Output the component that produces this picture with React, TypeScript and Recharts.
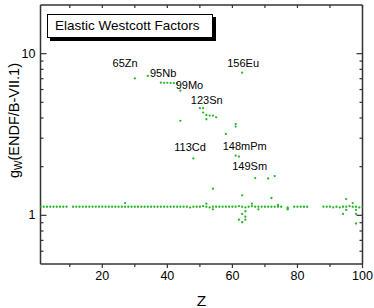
import React from 'react';
import { ScatterChart, Scatter, XAxis, YAxis, Legend, ReferenceDot } from 'recharts';

// elements sitting on the ~1.13 plateau (one entry per Z)
const baselineZ = [
  1, 2, 3, 4, 5, 6, 7, 8, 9,
  11, 12, 13, 14, 15, 16, 17, 18, 19, 20,
  21, 22, 23, 24, 25, 26, 27, 28, 29, 30,
  31, 32, 33, 34, 35, 36, 37, 38, 39, 40,
  41, 42, 43, 44, 45, 46, 47, 48, 49, 50,
  51, 52, 53, 54, 55, 56, 57, 58, 59, 60,
  61, 62, 63, 64, 65, 66, 67, 68, 69, 70,
  71, 72, 73, 74, 75, 77, 79, 80, 81, 82, 83,
  88, 89, 90, 91, 92, 93, 94, 95, 96, 97, 98, 99, 100,
];
const baselineG = [
  1.13, 1.13, 1.13, 1.13, 1.13, 1.13, 1.13, 1.13, 1.13,
  1.13, 1.13, 1.13, 1.13, 1.13, 1.13, 1.13, 1.13, 1.13, 1.13,
  1.13, 1.13, 1.13, 1.13, 1.13, 1.13, 1.13, 1.13, 1.13, 1.13,
  1.13, 1.13, 1.13, 1.13, 1.13, 1.13, 1.13, 1.13, 1.13, 1.13,
  1.13, 1.13, 1.13, 1.13, 1.13, 1.13, 1.12, 1.13, 1.13, 1.13,
  1.14, 1.13, 1.12, 1.13, 1.13, 1.13, 1.13, 1.13, 1.13, 1.13,
  1.13, 1.14, 1.13, 1.12, 1.13, 1.14, 1.13, 1.13, 1.13, 1.13,
  1.13, 1.13, 1.13, 1.13, 1.13, 1.12, 1.13, 1.13, 1.13, 1.13, 1.13,
  1.13, 1.13, 1.13, 1.12, 1.13, 1.12, 1.13, 1.13, 1.14, 1.13, 1.13, 1.12, 1.13,
];

// nuclides off the plateau
const outlierZ = [
  27, 30, 34, 38, 39, 40, 41, 42, 43, 44, 44,
  48, 50, 51, 51, 52, 53, 54, 55, 52,
  58, 61, 61, 61, 62, 63,
  67, 71, 73, 54, 63, 72, 95, 97, 52, 66, 74,
  63, 64, 64, 62, 63, 64,
  94, 95, 98, 98, 98, 54, 68, 77, 77,
];
const outlierG = [
  1.19, 7.04, 7.28, 6.62, 6.6, 6.6, 6.58, 6.58, 6.55, 5.9, 3.84,
  2.25, 4.6, 4.6, 4.32, 4.18, 4.14, 4.14, 4.04, 3.93,
  3.19, 3.67, 3.54, 2.34, 2.31, 7.63,
  1.7, 1.69, 1.75, 1.46, 1.33, 1.28, 1.26, 1.19, 1.18, 1.18, 1.16,
  1.02, 1.06, 0.98, 0.94, 0.906, 0.94,
  1.02, 1.08, 1.02, 0.89, 1.08, 1.09, 1.09, 1.09, 1.1,
];

// annotation text and where its centre sits (Z, g_W)
const noteText = ['65Zn', '95Nb', '99Mo', '156Eu', '123Sn', '113Cd', '148mPm', '149Sm'];
const noteZ = [27.0, 38.7, 46.8, 63.3, 52.1, 47.0, 63.8, 65.3];
const noteG = [8.72, 7.63, 6.4, 8.8, 5.17, 2.63, 2.7, 2.01];

const xTicks = [10, 20, 30, 40, 50, 60, 70, 80, 90, 100];
const yTicks = [0.6, 0.7, 0.8, 0.9, 1, 2, 3, 4, 5, 6, 7, 8, 9, 10];
const xMajor = [20, 40, 60, 80, 100];
const yMajor = [1, 10];

const points = [
  ...baselineZ.map((z, i) => ({ z, g: baselineG[i] })),
  ...outlierZ.map((z, i) => ({ z, g: outlierG[i] })),
];

const FONT = '"Liberation Sans", Arial, sans-serif';
const AXIS = '#333';

const LeftTick = ({ x, y, payload }: any) => {
  const major = yMajor.includes(payload.value);
  return (
    <g>
      <line x1={x} x2={x + (major ? 6 : 3)} y1={y} y2={y} stroke={AXIS} strokeWidth={1.2} />
      {major && (
        <text x={x - 5} y={y} textAnchor="end" dominantBaseline="central" fontSize={12.5} fontFamily={FONT} fill="#000">
          {payload.value}
        </text>
      )}
    </g>
  );
};

const RightTick = ({ x, y, payload }: any) => {
  const major = yMajor.includes(payload.value);
  return <line x1={x} x2={x - (major ? 6 : 3)} y1={y} y2={y} stroke={AXIS} strokeWidth={1.2} />;
};

const BottomTick = ({ x, y, payload }: any) => {
  const major = xMajor.includes(payload.value);
  return (
    <g>
      <line x1={x} x2={x} y1={y} y2={y + (major ? 4 : 3)} stroke={AXIS} strokeWidth={1.2} />
      {major && (
        <text x={x} y={y + 12} textAnchor="middle" dominantBaseline="central" fontSize={12.5} fontFamily={FONT} fill="#000">
          {payload.value}
        </text>
      )}
    </g>
  );
};

const TopTick = ({ x, y }: any) => (
  <line x1={x} x2={x} y1={y} y2={y + 3} stroke={AXIS} strokeWidth={1.2} />
);

const YLabel = ({ viewBox }: any) => {
  const cx = 14;
  const cy = viewBox.y + viewBox.height / 2 - 14;
  return (
    <text
      x={cx}
      y={cy}
      transform={`rotate(-90 ${cx} ${cy})`}
      textAnchor="middle"
      dominantBaseline="central"
      fontSize={14.5}
      fontFamily={FONT}
      fill="#000"
    >
      g<tspan fontSize={10} dy={4}>W</tspan>
      <tspan dy={-4}>(ENDF/B-VII.1)</tspan>
    </text>
  );
};

const LegendBox = () => (
  <div
    style={{
      width: 157,
      height: 22,
      border: '1px solid #000',
      background: '#fff',
      boxShadow: '3px 3px 0 #000',
      fontFamily: FONT,
      fontSize: 13.5,
      lineHeight: '22px',
      paddingLeft: 7,
      boxSizing: 'content-box',
      color: '#000',
      whiteSpace: 'nowrap',
    }}
  >
    Elastic Westcott Factors
  </div>
);

export default function App() {
  return (
    <div style={{ position: 'absolute', left: 0, top: 0, background: '#fff' }}>
      <ScatterChart width={374} height={308} margin={{ top: 4, right: 10.5, left: 0, bottom: 0 }}>
        <XAxis
          dataKey="z"
          type="number"
          domain={[1, 100]}
          ticks={xTicks}
          interval={0}
          height={44}
          tickSize={0}
          tickMargin={0}
          tick={<BottomTick />}
          axisLine={{ stroke: AXIS, strokeWidth: 1.5 }}
          allowDataOverflow
          label={{ value: 'Z', position: 'insideBottom', offset: 2, fontSize: 15.5, fontFamily: FONT, fill: '#000' }}
        />
        <XAxis
          xAxisId="t"
          dataKey="z"
          type="number"
          orientation="top"
          domain={[1, 100]}
          ticks={xTicks}
          interval={0}
          height={1}
          tickSize={0}
          tickMargin={0}
          tick={<TopTick />}
          axisLine={{ stroke: AXIS, strokeWidth: 1.5 }}
          allowDataOverflow
        />
        <YAxis
          dataKey="g"
          type="number"
          scale="log"
          domain={[0.5, 20]}
          ticks={yTicks}
          interval={0}
          width={40.5}
          tickSize={0}
          tickMargin={0}
          tick={<LeftTick />}
          axisLine={{ stroke: AXIS, strokeWidth: 1.5 }}
          allowDataOverflow
          label={{ content: <YLabel /> }}
        />
        <YAxis
          yAxisId="r"
          dataKey="g"
          type="number"
          orientation="right"
          scale="log"
          domain={[0.5, 20]}
          ticks={yTicks}
          interval={0}
          width={1}
          tickSize={0}
          tickMargin={0}
          tick={<RightTick />}
          axisLine={{ stroke: AXIS, strokeWidth: 1.5 }}
          allowDataOverflow
        />
        <Legend
          layout="horizontal"
          verticalAlign="middle"
          align="center"
          wrapperStyle={{ left: 47, top: 14, width: 'auto', height: 'auto' }}
          content={<LegendBox />}
        />
        <Scatter
          name="Elastic Westcott Factors"
          data={points}
          isAnimationActive={false}
          shape={(p: any) => <circle cx={p.cx} cy={p.cy} r={1.15} fill="#2ab52a" />}
        />
        {noteText.map((t, i) => (
          <ReferenceDot
            key={t}
            x={noteZ[i]}
            y={noteG[i]}
            r={0}
            fill="none"
            stroke="none"
            label={{ value: t, position: 'center', fontSize: 11, fontFamily: FONT, fill: '#000' }}
          />
        ))}
      </ScatterChart>
    </div>
  );
}
